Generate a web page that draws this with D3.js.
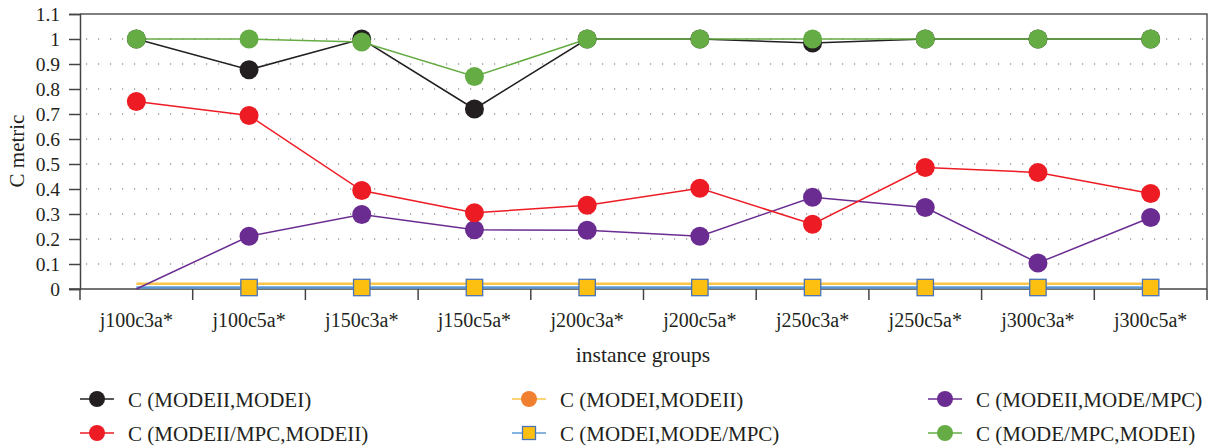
<!DOCTYPE html>
<html>
<head>
<meta charset="utf-8">
<script src="https://cdn.jsdelivr.net/npm/d3@7"></script>
<style>
  body { margin: 0; background: #fff; }
  svg text { font-family: "Liberation Serif", serif; fill: #231f20; }
</style>
</head>
<body>
<svg id="chart"></svg>
<script>
var categories = ["j100c3a*", "j100c5a*", "j150c3a*", "j150c5a*", "j200c3a*",
                  "j200c5a*", "j250c3a*", "j250c5a*", "j300c3a*", "j300c5a*"];

var modeiiModei     = [1, 0.877, 1, 0.72, 1, 1, 0.984, 1, 1, 1];
var modeiModeii     = [0.021, 0.021, 0.021, 0.021, 0.021, 0.021, 0.021, 0.021, 0.021, 0.021];
var modeiiModeMpc   = [0, 0.211, 0.298, 0.237, 0.235, 0.211, 0.367, 0.326, 0.104, 0.286];
var modeiiMpcModeii = [0.75, 0.694, 0.394, 0.305, 0.335, 0.403, 0.259, 0.486, 0.466, 0.382];
var modeiModeMpc    = [0.006, 0.006, 0.006, 0.006, 0.006, 0.006, 0.006, 0.006, 0.006, 0.006];
var modeMpcModei    = [1, 1, 0.988, 0.85, 1, 1, 1, 1, 1, 1];

var yTicks = [0, 0.1, 0.2, 0.3, 0.4, 0.5, 0.6, 0.7, 0.8, 0.9, 1, 1.1];

var width = 1218, height = 446;
var margin = { top: 14, right: 11, bottom: 157, left: 80 };

var svg = d3.select("#chart").attr("width", width).attr("height", height);

var x = d3.scaleBand()
  .domain(categories)
  .range([margin.left, width - margin.right]);

var y = d3.scaleLinear()
  .domain([0, 1.1])
  .range([height - margin.bottom, margin.top]);

// drawing order: later ones on top
var series = [
  { name: "C (MODEI,MODEII)", values: modeiModeii, line: "#fcc64a", fill: "#f07f30", shape: "circle", width: 2.5, showMarks: false },
  { name: "C (MODEI,MODE/MPC)", values: modeiModeMpc, line: "#5b9bd5", fill: "#fdc010", stroke: "#4a74b8", shape: "square", width: 2.5, skip: [0] },
  { name: "C (MODEII,MODE/MPC)", values: modeiiModeMpc, line: "#6a2c91", fill: "#6a2c91", shape: "circle", width: 1.5, skip: [0] },
  { name: "C (MODEII/MPC,MODEII)", values: modeiiMpcModeii, line: "#ed1c24", fill: "#ed1c24", shape: "circle", width: 1.5 },
  { name: "C (MODEII,MODEI)", values: modeiiModei, line: "#231f20", fill: "#231f20", shape: "circle", width: 1.5 },
  { name: "C (MODE/MPC,MODEI)", values: modeMpcModei, line: "#65ac44", fill: "#65ac44", shape: "circle", width: 1.5 }
];

// dotted grid
svg.append("g")
  .selectAll("line")
  .data(yTicks.filter(function(d) { return d > 0 && d < 1.05; }))
  .enter().append("line")
  .attr("x1", margin.left + 6).attr("x2", width - margin.right)
  .attr("y1", function(d) { return y(d); }).attr("y2", function(d) { return y(d); })
  .attr("stroke", "#666").attr("stroke-width", 1.2)
  .attr("stroke-dasharray", "1.2,10.8");

// frame top + right
svg.append("path")
  .attr("d", "M" + margin.left + "," + y(1.1) + "H" + (width - margin.right) + "V" + y(0))
  .attr("fill", "none").attr("stroke", "#555").attr("stroke-width", 1.5);

// y axis
var yAxis = d3.axisLeft(y).tickValues(yTicks).tickSize(11).tickPadding(9)
  .tickFormat(function(d) { return String(+d.toFixed(1)); });
var gy = svg.append("g").attr("transform", "translate(" + margin.left + ",0)").call(yAxis);
gy.attr("font-family", null).attr("font-size", null);
gy.select(".domain").attr("stroke", "#444").attr("stroke-width", 1.5);
gy.selectAll(".tick line").attr("stroke", "#444").attr("stroke-width", 1.5);
gy.selectAll("text").style("font-size", "19.5px").attr("fill", "#231f20");

// x axis: ticks on band boundaries
var bounds = categories.map(function(c) { return x(c); }).concat([x.range()[1]]);
var gx = svg.append("g");
gx.append("line")
  .attr("x1", margin.left - 11).attr("x2", width - margin.right)
  .attr("y1", y(0)).attr("y2", y(0))
  .attr("stroke", "#444").attr("stroke-width", 1.5);
gx.selectAll(".xt").data(bounds).enter().append("line")
  .attr("x1", function(d) { return d; }).attr("x2", function(d) { return d; })
  .attr("y1", y(0)).attr("y2", y(0) + 11)
  .attr("stroke", "#444").attr("stroke-width", 1.5);
gx.selectAll(".xl").data(categories).enter().append("text")
  .attr("x", function(d) { return x(d) + x.bandwidth() / 2; })
  .attr("y", y(0) + 38)
  .attr("text-anchor", "middle")
  .style("font-size", "20px")
  .text(function(d) { return d; });

// axis titles
svg.append("text")
  .attr("x", 643).attr("y", 362)
  .attr("text-anchor", "middle").style("font-size", "21.5px")
  .text("instance groups");
svg.append("text")
  .attr("transform", "translate(24,151) rotate(-90)")
  .attr("text-anchor", "middle").style("font-size", "21px")
  .text("C metric");

var cx = function(i) { return x(categories[i]) + x.bandwidth() / 2; };

var line = d3.line()
  .x(function(d, i) { return cx(i); })
  .y(function(d) { return y(d); });

function drawMark(g, s, px, py, r) {
  if (s.shape === "square") {
    g.append("rect")
      .attr("x", px - r).attr("y", py - r).attr("width", 2 * r).attr("height", 2 * r)
      .attr("fill", s.fill).attr("stroke", s.stroke).attr("stroke-width", 1.3);
  } else {
    g.append("circle").attr("cx", px).attr("cy", py).attr("r", r).attr("fill", s.fill);
  }
}

var lines = svg.append("g");
series.forEach(function(s) {
  lines.append("path")
    .datum(s.values)
    .attr("d", line)
    .attr("fill", "none").attr("stroke", s.line).attr("stroke-width", s.width);
});

var marks = svg.append("g");
series.forEach(function(s) {
  if (s.showMarks === false) return;
  s.values.forEach(function(v, i) {
    if (s.skip && s.skip.indexOf(i) >= 0) return;
    drawMark(marks, s, cx(i), y(v), s.shape === "square" ? 8.2 : 9.5);
  });
});

// legend
var legendOrder = [
  { s: series[4], col: 0, row: 0 },
  { s: series[3], col: 0, row: 1 },
  { s: series[0], col: 1, row: 0 },
  { s: series[1], col: 1, row: 1 },
  { s: series[2], col: 2, row: 0 },
  { s: series[5], col: 2, row: 1 }
];
var colX = [80, 512, 928];
var rowY = [399, 433];
var legend = svg.append("g");
legendOrder.forEach(function(l) {
  var x0 = colX[l.col], yy = rowY[l.row];
  legend.append("line")
    .attr("x1", x0).attr("x2", x0 + 34).attr("y1", yy).attr("y2", yy)
    .attr("stroke", l.s.line).attr("stroke-width", 1.5);
  drawMark(legend, l.s, x0 + 17, yy, l.s.shape === "square" ? 6.5 : 8);
  legend.append("text")
    .attr("x", x0 + 48).attr("y", yy + 7.5)
    .style("font-size", "21px")
    .text(l.s.name);
});
</script>
</body>
</html>
